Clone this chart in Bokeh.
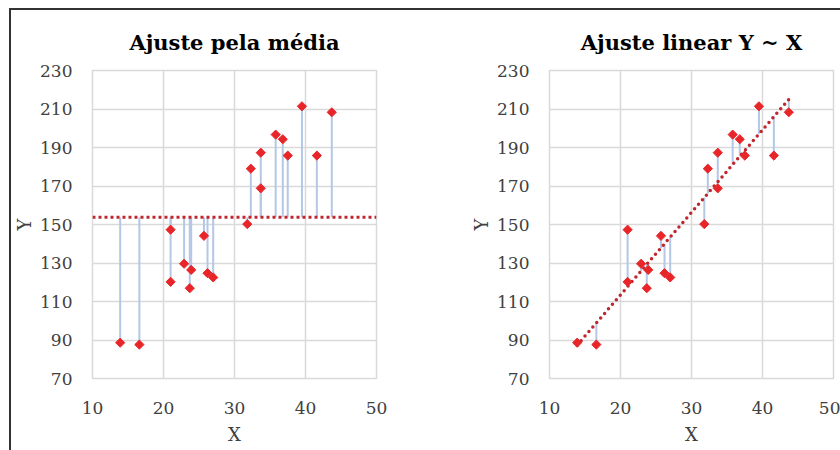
import numpy as np
from bokeh.plotting import figure
from bokeh.layouts import row
from bokeh.models import Range1d, FixedTicker, Span
from bokeh.embed import file_html
from bokeh.resources import INLINE

# ---- data ----
x_vals = [13.9, 16.6, 21.0, 21.0, 22.9, 23.9, 23.7, 25.7, 26.2, 27.0,
          31.8, 32.3, 33.7, 33.7, 35.8, 36.8, 37.5, 39.5, 41.6, 43.7]
y_vals = [88.6, 87.6, 147.3, 120.2, 129.6, 126.4, 116.9, 144.1, 124.7, 122.5,
          150.2, 179.0, 187.3, 168.8, 196.7, 194.3, 185.8, 211.4, 185.8, 208.3]
x_ticks = [10, 20, 30, 40, 50]
y_ticks = [70, 90, 110, 130, 150, 170, 190, 210, 230]
titles = ["Ajuste pela média", "Ajuste linear Y ~ X"]

X = np.array(x_vals)
Y = np.array(y_vals)
mean_y = float(Y.mean())
slope, intercept = np.polyfit(X, Y, 1)
fitted = slope * X + intercept

RED = "#e8262a"
DARKRED = "#c0262d"
BLUE = "#b4c7e7"
GRID = "#d9d9d9"
TXT = "#404040"
FONT = "DejaVu Serif"


def base(width, left, right, title):
    p = figure(width=width, height=440, output_backend="svg", toolbar_location=None,
               x_range=Range1d(10, 50), y_range=Range1d(70, 230),
               min_border_left=left, min_border_right=right,
               min_border_top=60, min_border_bottom=72,
               title=title)
    p.title.align = "center"
    p.title.text_font = FONT
    p.title.text_font_style = "bold"
    p.title.text_font_size = "21px"
    p.title.text_color = "#000000"
    p.title.standoff = 32
    p.outline_line_color = GRID
    p.outline_line_width = 1.5
    p.xaxis.ticker = FixedTicker(ticks=x_ticks)
    p.yaxis.ticker = FixedTicker(ticks=y_ticks)
    p.xgrid.ticker = FixedTicker(ticks=x_ticks)
    p.ygrid.ticker = FixedTicker(ticks=y_ticks)
    p.grid.grid_line_color = GRID
    p.grid.grid_line_width = 1.5
    for ax in (p.xaxis[0], p.yaxis[0]):
        ax.axis_line_color = None
        ax.major_tick_line_color = None
        ax.minor_tick_line_color = None
        ax.major_label_text_font = FONT
        ax.major_label_text_font_size = "17px"
        ax.major_label_text_color = TXT
        ax.axis_label_text_font = FONT
        ax.axis_label_text_font_size = "18px"
        ax.axis_label_text_font_style = "normal"
        ax.axis_label_text_color = TXT
    p.xaxis.axis_label = "X"
    p.yaxis.axis_label = "Y"
    p.xaxis.major_label_standoff = 17
    p.yaxis.major_label_standoff = 14
    p.xaxis.axis_label_standoff = 7
    p.yaxis.axis_label_standoff = 2
    p.background_fill_color = "white"
    p.border_fill_color = "white"
    return p


# left: fit by mean
p1 = base(442, 81, 77, titles[0])
p1.segment(x0=X, y0=Y, x1=X, y1=[mean_y] * len(X), line_color=BLUE, line_width=2)
p1.add_layout(Span(location=mean_y, dimension="width", line_color=DARKRED,
                   line_width=3, line_dash="3 3"))
p1.scatter(X, Y, marker="square", angle=np.pi / 4, size=6.5,
           fill_color=RED, line_color=RED)

# right: linear fit
p2 = base(387, 96, 7, titles[1])
p2.segment(x0=X, y0=Y, x1=X, y1=fitted, line_color=BLUE, line_width=2)
xs_fit = [float(X.min()), float(X.max())]
p2.line(xs_fit, [slope * v + intercept for v in xs_fit], line_color=DARKRED,
        line_width=3.5, line_dash="0 6", line_cap="round")
p2.scatter(X, Y, marker="square", angle=np.pi / 4, size=6.5,
           fill_color=RED, line_color=RED)

layout = row(p1, p2, margin=(8, 0, 0, 9),
             styles={"border-left": "2px solid #333333",
                     "border-top": "2px solid #333333"})

open("out.html", "w").write(file_html(layout, INLINE))
